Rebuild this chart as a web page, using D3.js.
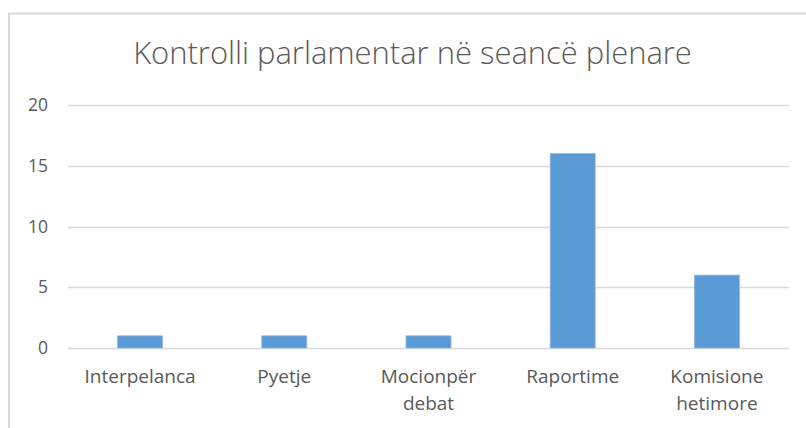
<!DOCTYPE html>
<html>
<head>
<meta charset="utf-8">
<script src="https://cdn.jsdelivr.net/npm/d3@7"></script>
<style>
  html, body { margin: 0; padding: 0; background: #fff; }
  svg { display: block; }
  text { font-family: "Open Sans", "Noto Sans", sans-serif; fill: #595959; }
</style>
</head>
<body>
<svg id="chart" width="806" height="428"></svg>
<script>
const title = "Kontrolli parlamentar në seancë plenare";
const categories = [["Interpelanca"], ["Pyetje"], ["Mocionpër", "debat"], ["Raportime"], ["Komisione", "hetimore"]];
const values = [1, 1, 1, 16, 6];
const yTicks = [0, 5, 10, 15, 20];

const svg = d3.select("#chart");

// outer chart border
svg.append("rect")
  .attr("x", 9).attr("y", 13.5)
  .attr("width", 830).attr("height", 460)
  .attr("fill", "#fff")
  .attr("stroke", "#d9d9d9")
  .attr("stroke-width", 2);

const plot = { left: 68, right: 789, top: 105, bottom: 348 };

const x = d3.scaleBand()
  .domain(categories.map((d, i) => i))
  .range([plot.left, plot.right])
  .paddingInner(0)
  .paddingOuter(0);

const y = d3.scaleLinear()
  .domain([0, 20])
  .range([plot.bottom, plot.top]);

// gridlines
svg.append("g")
  .selectAll("line")
  .data(yTicks)
  .join("line")
  .attr("x1", plot.left).attr("x2", plot.right)
  .attr("y1", d => Math.round(y(d)) + 0.5)
  .attr("y2", d => Math.round(y(d)) + 0.5)
  .attr("stroke", "#d9d9d9")
  .attr("stroke-width", 1.5);

// y tick labels
svg.append("g")
  .selectAll("text")
  .data(yTicks)
  .join("text")
  .attr("x", 48)
  .attr("y", d => y(d) + 6)
  .attr("text-anchor", "end")
  .attr("font-size", 17.5)
  .text(d => d);

// bars
const barW = x.bandwidth() * 0.312;
svg.append("g")
  .selectAll("rect")
  .data(values)
  .join("rect")
  .attr("x", (d, i) => x(i) + x.bandwidth() / 2 - barW / 2)
  .attr("y", d => y(d))
  .attr("width", barW)
  .attr("height", d => y(0) - y(d))
  .attr("fill", "#5b9bd5")
  .attr("stroke", "#8fb9e3")
  .attr("stroke-width", 0.8);

// category labels
const cat = svg.append("g")
  .selectAll("text")
  .data(categories)
  .join("text")
  .attr("text-anchor", "middle")
  .attr("font-size", 19);
cat.each(function(lines, i) {
  const t = d3.select(this);
  lines.forEach((ln, j) => {
    t.append("tspan")
      .attr("x", x(i) + x.bandwidth() / 2)
      .attr("y", 383 + j * 27)
      .text(ln);
  });
});

// title
const tt = svg.append("text")
  .attr("x", 412.5)
  .attr("y", 64)
  .attr("text-anchor", "middle")
  .attr("font-size", 29)
  .attr("font-weight", 300)
  .text(title);
const tw = tt.node().getComputedTextLength();
tt.attr("font-size", 29 * 559 / tw);
</script>
</body>
</html>
